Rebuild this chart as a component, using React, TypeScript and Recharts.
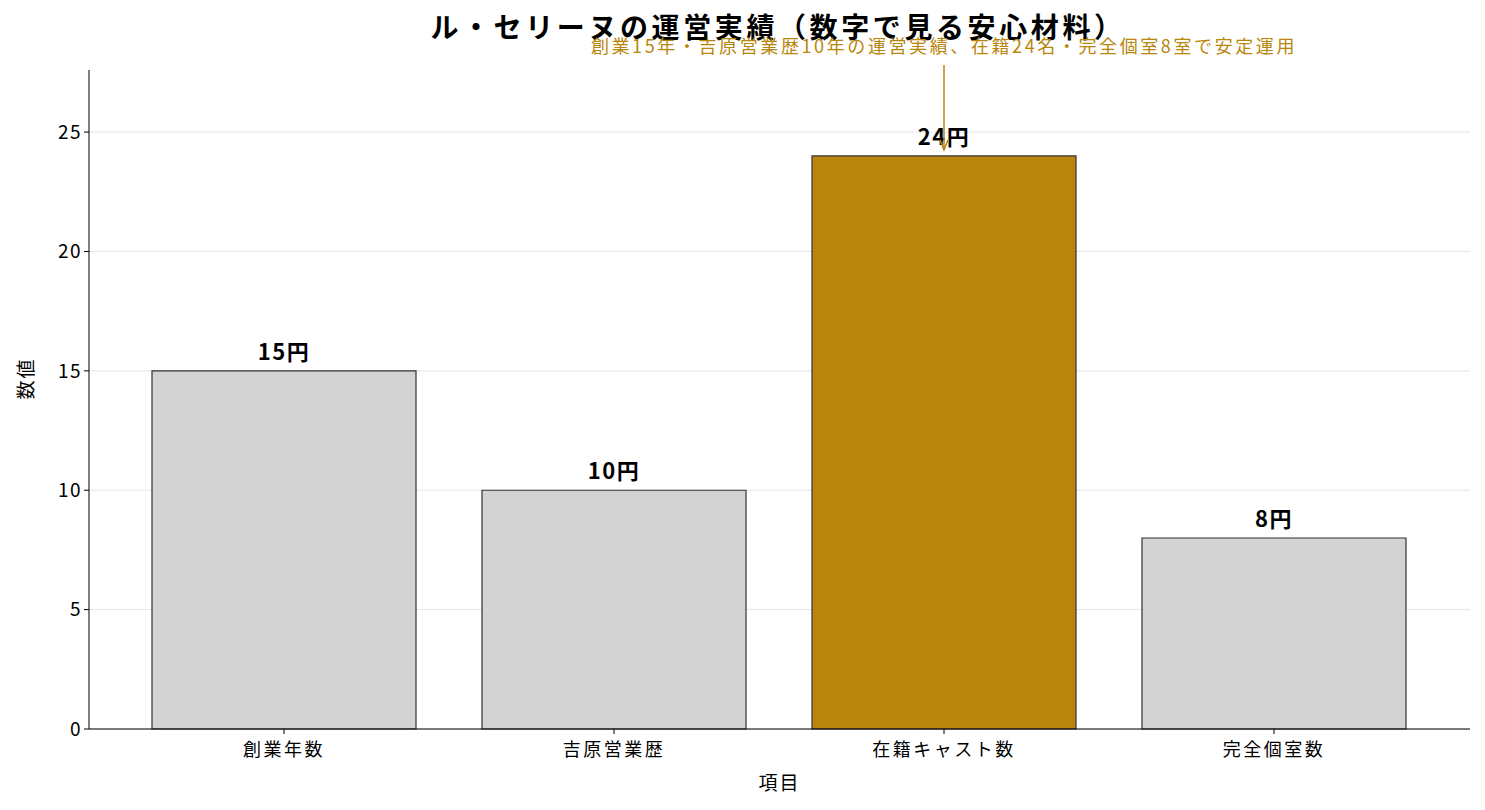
import React from 'react';
import { BarChart, Bar, XAxis, YAxis, CartesianGrid, Cell, LabelList } from 'recharts';

// Categories and values
const categories = ['創業年数', '吉原営業歴', '在籍キャスト数', '完全個室数'];
const values = [15, 10, 24, 8];
const highlightIndex = 2;
const yTicks = [0, 5, 10, 15, 20, 25];

const title = 'ル・セリーヌの運営実績（数字で見る安心材料）';
const annotation = '創業15年・吉原営業歴10年の運営実績、在籍24名・完全個室8室で安定運用';

const FONT = '"Noto Sans CJK JP", "Noto Sans", sans-serif';
const GOLD = '#b8860b';

const data = categories.map((name, i) => ({ name, value: values[i] }));

// Arrow + text annotation pointing at the highlighted bar (drawn on top of the value labels)
const AnnotationContent = (props: any) => {
  const { x, y, width, index } = props;
  if (index !== highlightIndex) return null;
  const cx = x + width / 2;
  const tipY = y - 6;
  const startY = y - 91;
  return (
    <g>
      <line x1={cx} y1={startY} x2={cx} y2={tipY - 1} stroke={GOLD} strokeWidth={1.5} />
      <path d={`M${cx - 4},${tipY - 10} L${cx},${tipY} L${cx + 4},${tipY - 10}`} fill="none" stroke={GOLD} strokeWidth={1.5} />
      <text x={cx} y={y - 103} textAnchor="middle" fill={GOLD} fontSize={18} letterSpacing={2.6} fontFamily={FONT}>
        {annotation}
      </text>
    </g>
  );
};

const App: React.FC = () => {
  return (
    <div style={{ position: 'absolute', left: 0, top: 0, width: 1485, height: 810, background: '#fff' }}>
      <BarChart
        width={1485}
        height={810}
        data={data}
        margin={{ top: 70, right: 15, bottom: 0, left: 0 }}
        barCategoryGap="10%"
      >
        <text x={778} y={38} textAnchor="middle" fontSize={28} letterSpacing={3.6} fontWeight="bold" fontFamily={FONT} fill="#000">
          {title}
        </text>
        <CartesianGrid vertical={false} stroke="#e6e6e6" horizontalValues={yTicks} />
        <XAxis
          dataKey="name"
          height={81}
          padding={{ left: 30, right: 31 }}
          stroke="#000"
          tickLine={{ stroke: '#000' }}
          tickSize={5}
          tick={{ fill: '#000', fontSize: 18, letterSpacing: 2.5, fontFamily: FONT, dy: 7 }}
          label={{ value: '項目', position: 'insideBottom', offset: 20, fill: '#000', fontSize: 19, letterSpacing: 2, fontFamily: FONT }}
        />
        <YAxis
          width={89}
          domain={[0, 27.6]}
          ticks={yTicks}
          stroke="#000"
          tickSize={5}
          tick={{ fill: '#000', fontSize: 19, letterSpacing: 1.5, fontFamily: FONT }}
          label={{ value: '数値', angle: -90, position: 'insideLeft', offset: 26, fill: '#000', fontSize: 19, letterSpacing: 2, fontFamily: FONT }}
        />
        <Bar dataKey="value" stroke="#333" strokeWidth={1.2} isAnimationActive={false}>
          {data.map((d, i) => (
            <Cell key={d.name} fill={i === highlightIndex ? GOLD : '#d3d3d3'} />
          ))}
          <LabelList
            dataKey="value"
            position="top"
            offset={11}
            formatter={(v: any) => `${v}円`}
            fill="#000"
            fontSize={22}
            letterSpacing={1.5}
            fontWeight="bold"
            fontFamily={FONT}
          />
          <LabelList dataKey="value" content={AnnotationContent} />
        </Bar>
      </BarChart>
    </div>
  );
};

export default App;
